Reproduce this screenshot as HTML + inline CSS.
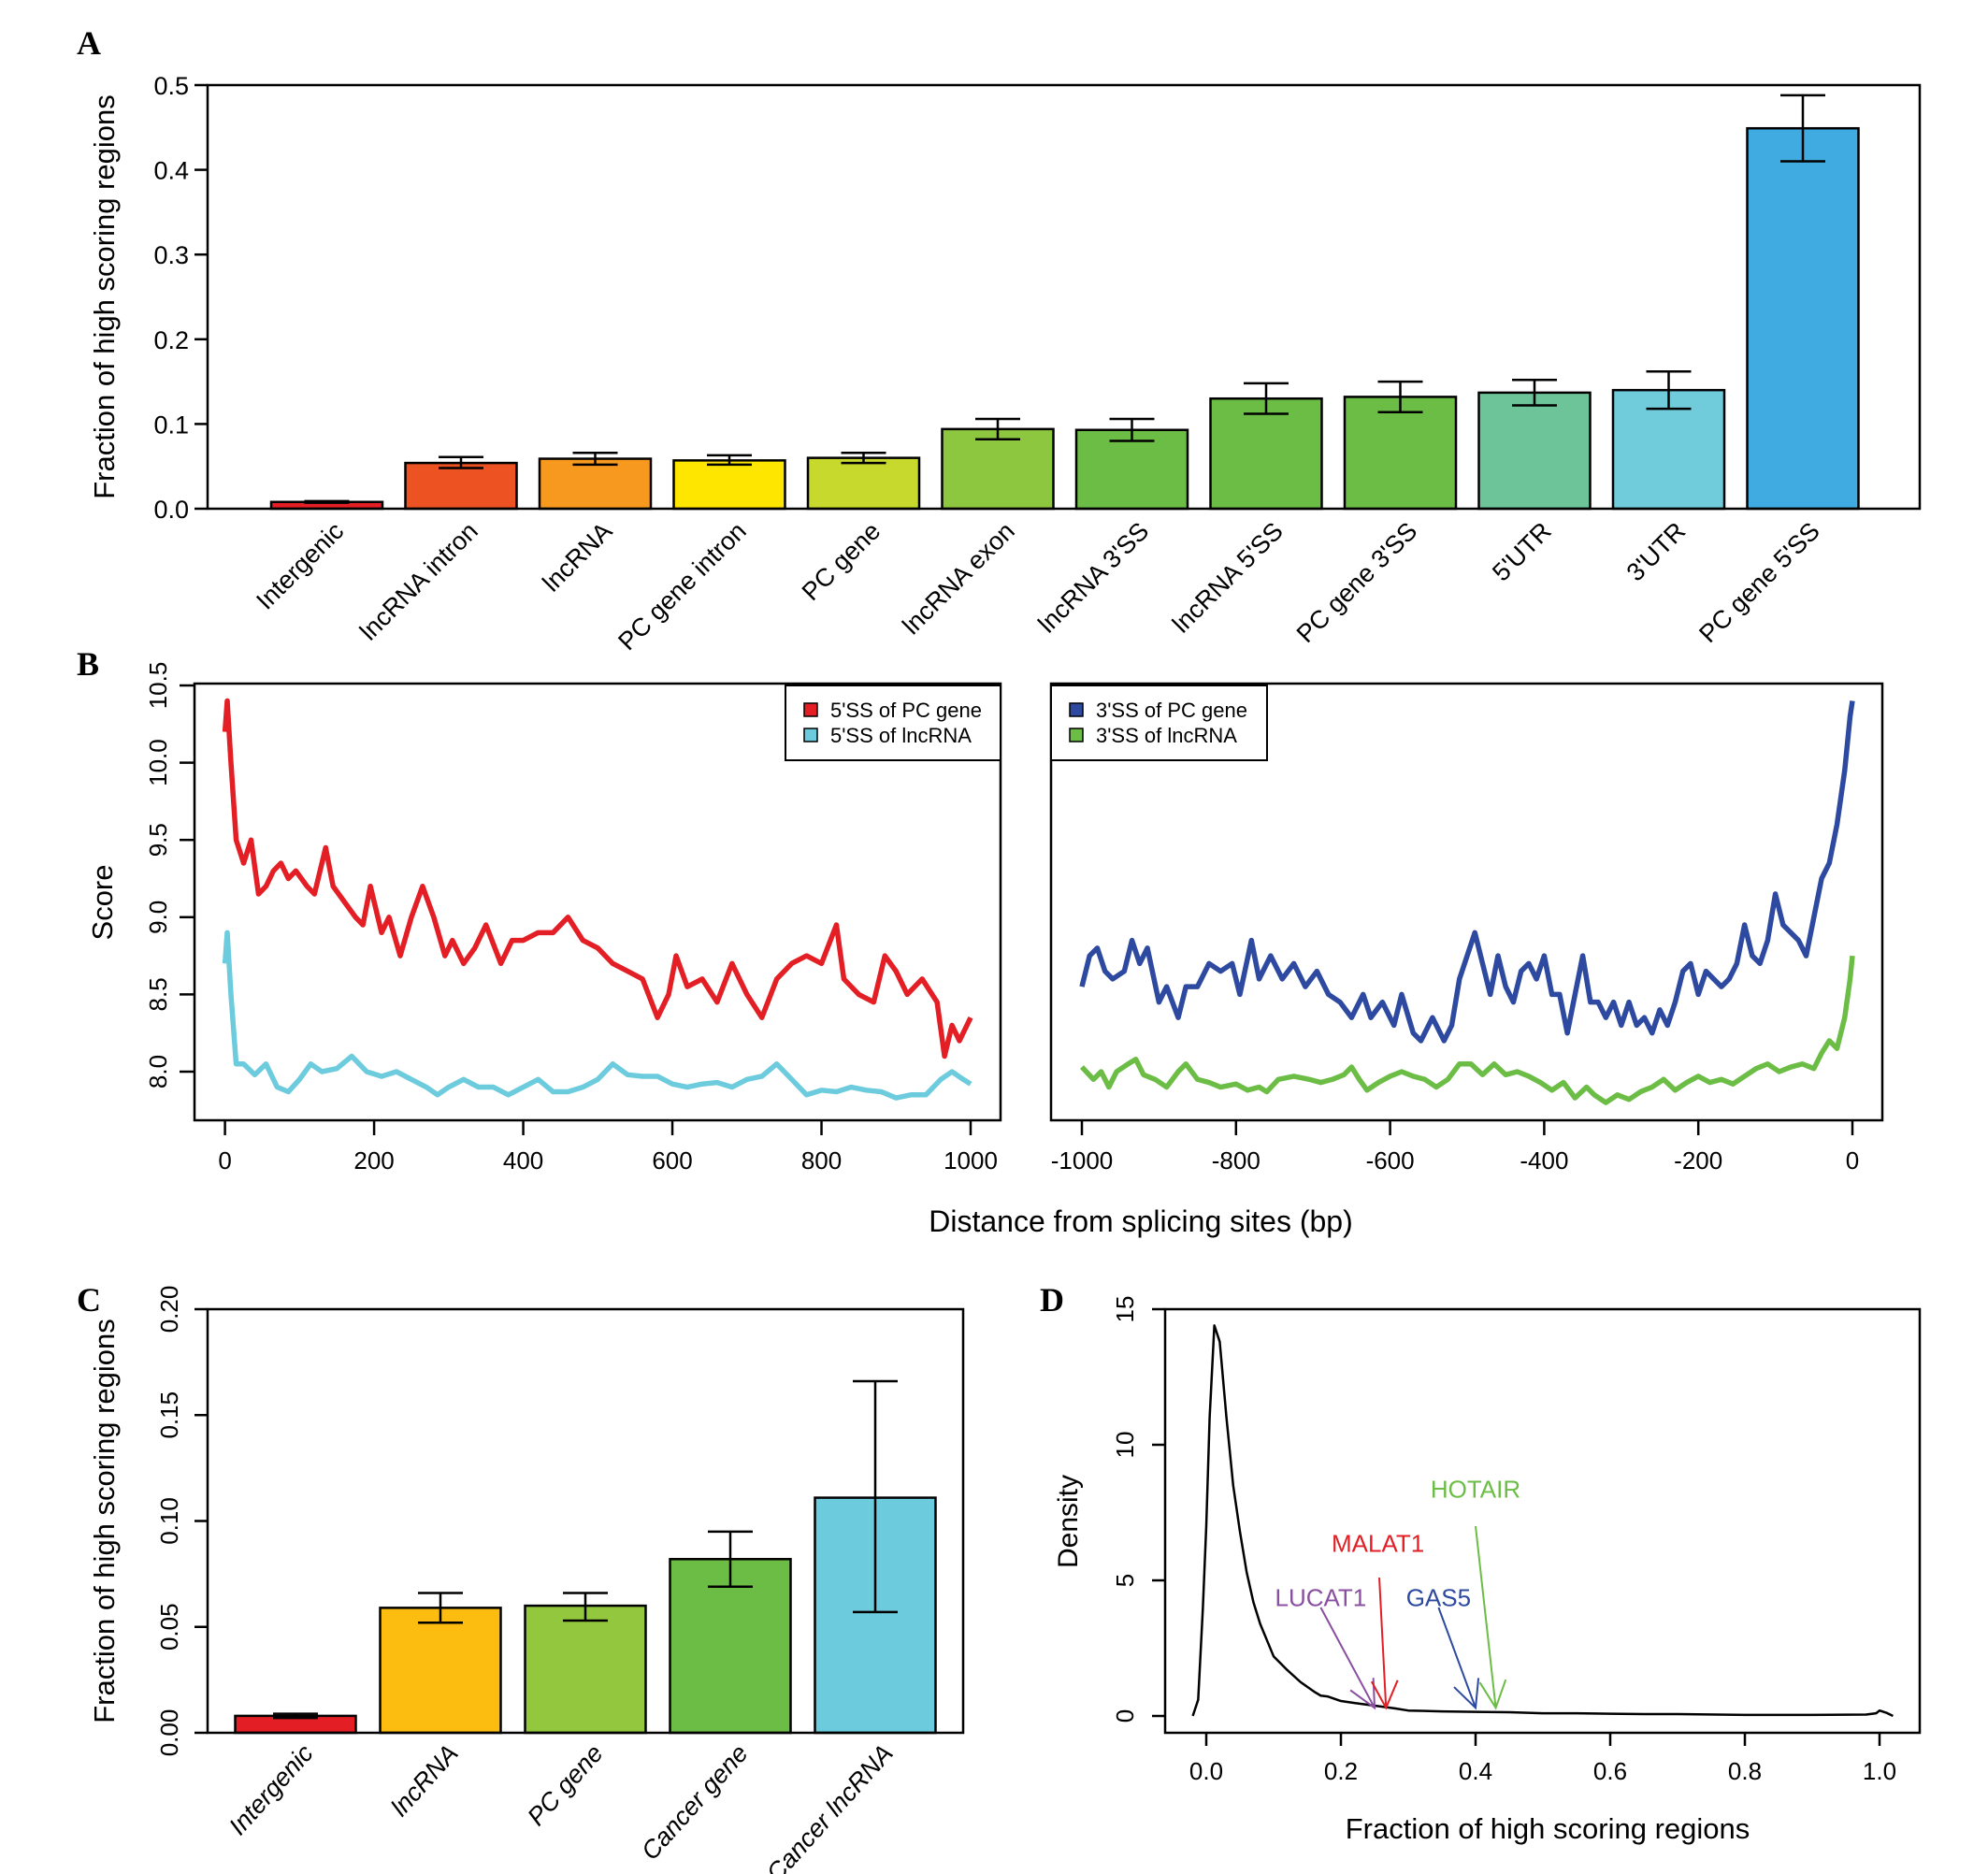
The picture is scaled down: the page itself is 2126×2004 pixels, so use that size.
<!DOCTYPE html>
<html><head><meta charset="utf-8">
<style>
html,body{margin:0;padding:0;background:#fff;}
svg{display:block;font-family:"Liberation Sans",sans-serif;}
.pl{font-family:"Liberation Serif",serif;font-weight:bold;font-size:36px;}
</style></head>
<body>
<svg id="fig" width="2126" height="2004" viewBox="0 0 2126 2004" xmlns="http://www.w3.org/2000/svg">
<text class="pl" x="82" y="58">A</text>
<text class="pl" x="82" y="722">B</text>
<text class="pl" x="82" y="1402">C</text>
<text class="pl" x="1112" y="1402">D</text>
</svg>
<script>
// ---- Panel A data
const catsA=["Intergenic","lncRNA intron","lncRNA","PC gene intron","PC gene","lncRNA exon","lncRNA 3'SS","lncRNA 5'SS","PC gene 3'SS","5'UTR","3'UTR","PC gene 5'SS"];
const valsA=[0.008,0.054,0.059,0.057,0.060,0.094,0.093,0.130,0.132,0.137,0.140,0.449];
const loA=[0.007,0.048,0.052,0.052,0.054,0.082,0.080,0.112,0.114,0.122,0.118,0.410];
const hiA=[0.009,0.061,0.066,0.063,0.066,0.106,0.106,0.148,0.150,0.152,0.162,0.488];
const colA=["#e31e24","#ed5222","#f7991f","#ffe600","#c8d92e","#8dc63f","#6cbd45","#6cbd45","#6cbd45","#6dc498","#70cbdb","#40abe1"];
const ticksA=["0.0","0.1","0.2","0.3","0.4","0.5"];
// ---- Panel B data
const x5pc=[0,3,8,15,25,35,45,55,65,75,85,95,110,120,135,145,160,175,185,195,210,220,235,250,265,280,295,305,320,335,350,370,385,400,420,440,460,480,500,520,540,560,580,595,605,620,640,660,680,700,720,740,760,780,800,820,830,850,870,885,900,915,935,955,965,975,985,1000];
const y5pc=[10.2,10.4,10.0,9.5,9.35,9.5,9.15,9.2,9.3,9.35,9.25,9.3,9.2,9.15,9.45,9.2,9.1,9.0,8.95,9.2,8.9,9.0,8.75,9.0,9.2,9.0,8.75,8.85,8.7,8.8,8.95,8.7,8.85,8.85,8.9,8.9,9.0,8.85,8.8,8.7,8.65,8.6,8.35,8.5,8.75,8.55,8.6,8.45,8.7,8.5,8.35,8.6,8.7,8.75,8.7,8.95,8.6,8.5,8.45,8.75,8.65,8.5,8.6,8.45,8.1,8.3,8.2,8.35];
const x5lnc=[0,3,8,15,25,40,55,70,85,100,115,130,150,170,190,210,230,250,270,285,300,320,340,360,380,400,420,440,460,480,500,520,540,560,580,600,620,640,660,680,700,720,740,760,780,800,820,840,860,880,900,920,940,960,975,990,1000];
const y5lnc=[8.7,8.9,8.5,8.05,8.05,7.98,8.05,7.9,7.87,7.95,8.05,8.0,8.02,8.1,8.0,7.97,8.0,7.95,7.9,7.85,7.9,7.95,7.9,7.9,7.85,7.9,7.95,7.87,7.87,7.9,7.95,8.05,7.98,7.97,7.97,7.92,7.9,7.92,7.93,7.9,7.95,7.97,8.05,7.95,7.85,7.88,7.87,7.9,7.88,7.87,7.83,7.85,7.85,7.95,8.0,7.95,7.92];
const x3pc=[-1000,-990,-980,-970,-960,-945,-935,-925,-915,-900,-890,-875,-865,-850,-835,-820,-805,-795,-780,-770,-755,-740,-725,-710,-695,-680,-665,-650,-635,-625,-610,-595,-585,-570,-560,-545,-530,-520,-510,-500,-490,-480,-470,-460,-450,-440,-430,-420,-410,-400,-390,-380,-370,-360,-350,-340,-330,-320,-310,-300,-290,-280,-270,-260,-250,-240,-230,-220,-210,-200,-190,-180,-170,-160,-150,-140,-130,-120,-110,-100,-90,-80,-70,-60,-50,-40,-30,-20,-10,-3,0];
const y3pc=[8.55,8.75,8.8,8.65,8.6,8.65,8.85,8.7,8.8,8.45,8.55,8.35,8.55,8.55,8.7,8.65,8.7,8.5,8.85,8.6,8.75,8.6,8.7,8.55,8.65,8.5,8.45,8.35,8.5,8.35,8.45,8.3,8.5,8.25,8.2,8.35,8.2,8.3,8.6,8.75,8.9,8.7,8.5,8.75,8.55,8.45,8.65,8.7,8.6,8.75,8.5,8.5,8.25,8.5,8.75,8.45,8.45,8.35,8.45,8.3,8.45,8.3,8.35,8.25,8.4,8.3,8.45,8.65,8.7,8.5,8.65,8.6,8.55,8.6,8.7,8.95,8.75,8.7,8.85,9.15,8.95,8.9,8.85,8.75,9.0,9.25,9.35,9.6,9.95,10.3,10.4];
const x3lnc=[-1000,-985,-975,-965,-955,-940,-930,-920,-905,-890,-875,-865,-850,-835,-820,-800,-785,-770,-760,-745,-725,-705,-690,-675,-660,-650,-640,-630,-615,-600,-585,-570,-555,-540,-525,-510,-495,-480,-465,-450,-435,-420,-405,-390,-375,-360,-345,-335,-320,-305,-290,-275,-260,-245,-230,-215,-200,-185,-170,-155,-140,-125,-110,-95,-80,-65,-50,-40,-30,-20,-10,-3,0];
const y3lnc=[8.03,7.95,8.0,7.9,8.0,8.05,8.08,7.98,7.95,7.9,8.0,8.05,7.95,7.93,7.9,7.92,7.88,7.9,7.87,7.95,7.97,7.95,7.93,7.95,7.98,8.03,7.95,7.88,7.93,7.97,8.0,7.97,7.95,7.9,7.95,8.05,8.05,7.98,8.05,7.98,8.0,7.97,7.93,7.88,7.93,7.83,7.9,7.85,7.8,7.85,7.82,7.87,7.9,7.95,7.88,7.93,7.97,7.93,7.95,7.92,7.97,8.02,8.05,8.0,8.03,8.05,8.02,8.12,8.2,8.15,8.35,8.6,8.75];
const ticksBy=["8.0","8.5","9.0","9.5","10.0","10.5"];
const ticksBxL=[0,200,400,600,800,1000];
const ticksBxR=[-1000,-800,-600,-400,-200,0];
// ---- Panel C data
const catsC=["Intergenic","lncRNA","PC gene","Cancer gene","Cancer lncRNA"];
const valsC=[0.008,0.059,0.060,0.082,0.111];
const loC=[0.007,0.052,0.053,0.069,0.057];
const hiC=[0.009,0.066,0.066,0.095,0.166];
const colC=["#e31e24","#fdbd10","#93c83e","#6cbd45","#6ccbdc"];
const ticksC=["0.00","0.05","0.10","0.15","0.20"];
// ---- Panel D data
const dX=[-0.02,-0.012,-0.005,0,0.005,0.012,0.02,0.03,0.04,0.05,0.06,0.07,0.08,0.09,0.1,0.12,0.14,0.16,0.17,0.18,0.2,0.22,0.25,0.28,0.3,0.35,0.4,0.45,0.5,0.55,0.6,0.65,0.7,0.8,0.9,0.98,0.995,1.0,1.01,1.02];
const dY=[0,0.6,4,7,11,14.4,13.8,11,8.5,6.8,5.3,4.2,3.4,2.8,2.2,1.7,1.25,0.9,0.75,0.72,0.55,0.48,0.38,0.28,0.2,0.17,0.15,0.14,0.1,0.1,0.08,0.07,0.07,0.04,0.04,0.05,0.1,0.2,0.12,0];
const annNames=["LUCAT1","MALAT1","GAS5","HOTAIR"];
const annTarget=[0.25,0.267,0.40,0.43];
const annLabelX=[0.17,0.255,0.345,0.40];
const annLabelY=[4.4,6.4,4.4,8.4];
const annStartX=[0.17,0.257,0.345,0.40];
const annStartY=[4.0,5.1,4.0,7.0];
const annCol=["#8a4fa0","#e31e24","#2e4aa0","#6cbd45"];
const ticksDx=["0.0","0.2","0.4","0.6","0.8","1.0"];
const ticksDy=[0,5,10,15];

const svg=document.getElementById('fig');
const NS="http://www.w3.org/2000/svg";
function mk(tag,attrs,parent){const e=document.createElementNS(NS,tag);for(const k in attrs)e.setAttribute(k,attrs[k]);(parent||svg).appendChild(e);return e;}
function txt(s,attrs,parent){const e=mk('text',attrs,parent);e.textContent=s;return e;}

// ===== Panel A
(function(){
 const L=222,R=2053,T=91,B=544;
 const y=v=>B-(v/0.5)*(B-T);
 const x0=290,step=143.5,w=119;
 const g=mk('g',{});  
 catsA.forEach((c,i)=>{
  const bx=x0+i*step;
  const r=mk('rect',{x:bx,y:y(valsA[i]),width:w,height:B-y(valsA[i]),fill:colA[i],stroke:'#000','stroke-width':2.5},g);
  
  
  const cx=bx+w/2;
  const eb=mk('path',{d:`M${cx},${y(loA[i])}V${y(hiA[i])}M${cx-24},${y(loA[i])}H${cx+24}M${cx-24},${y(hiA[i])}H${cx+24}`,stroke:'#000','stroke-width':2.5,fill:'none'},g);
  
  
  const t=txt(c,{x:cx+6,y:B+12,'text-anchor':'end','font-size':27,transform:`rotate(-45 ${cx+6} ${B+12})`,'dominant-baseline':'hanging'},g);
  
  
 });
 const fr=mk('rect',{x:L,y:T,width:R-L,height:B-T,fill:'none',stroke:'#000','stroke-width':2.5},g);
 
 
 ticksA.forEach((s,i)=>{const yy=y(+s);mk('line',{x1:L-14,x2:L,y1:yy,y2:yy,stroke:'#000','stroke-width':2.5},g);
  const t=txt(s,{x:L-20,y:yy+10,'text-anchor':'end','font-size':27},g);
  
  });
 const yt=txt('Fraction of high scoring regions',{x:0,y:0,'text-anchor':'middle','font-size':31,transform:`translate(122 ${(T+B)/2}) rotate(-90)`},g);
 
 
})();

// ===== Panel B
function linePanel(L,R,T,B,xmin,xmax,ticksX,series,legend,legX,showY,name){
 const g=mk('g',{});
 
 
 const ymin=8.0,ymax=10.5,y0=1146,y1=733;
 const y=v=>y0-(v-ymin)/(ymax-ymin)*(y0-y1);
 const x=v=>(ticksX.x0)+(v-xmin)/(xmax-xmin)*(ticksX.x1-ticksX.x0);
 series.forEach(s=>{
  const p=mk('polyline',{points:s.xs.map((v,i)=>x(v)+','+y(s.ys[i])).join(' '),fill:'none',stroke:s.col,'stroke-width':5.5,'stroke-linejoin':'round'},g);
  
  
 });
 const fr=mk('rect',{x:L,y:T,width:R-L,height:B-T,fill:'none',stroke:'#000','stroke-width':2.5},g);
 
 
 ticksX.vals.forEach(v=>{const xx=x(v);mk('line',{x1:xx,x2:xx,y1:B,y2:B+16,stroke:'#000','stroke-width':2.5},g);
  const t=txt(String(v),{x:xx,y:B+52,'text-anchor':'middle','font-size':26},g);
  
  });
 if(showY){
  ticksBy.forEach(s=>{const yy=y(+s);mk('line',{x1:L-16,x2:L,y1:yy,y2:yy,stroke:'#000','stroke-width':2.5},g);
   const t=txt(s,{x:0,y:0,'text-anchor':'middle','font-size':26,transform:`translate(178 ${yy}) rotate(-90)`},g);
   
   });
 }
 const lg=mk('g',{},g);
 
 
 mk('rect',{x:legX[0],y:733,width:legX[1]-legX[0],height:80,fill:'#fff',stroke:'#000','stroke-width':2},lg);
 legend.forEach((l,i)=>{
  mk('rect',{x:legX[0]+20,y:752+i*27,width:14,height:14,fill:l.col,stroke:'#000','stroke-width':1.5},lg);
  const t=txt(l.label,{x:legX[0]+48,y:767+i*27,'font-size':22},lg);
  
  
 });
}
linePanel(208,1070,731,1198,0,1000,{x0:240.6,x1:1038,vals:ticksBxL},
 [{xs:x5pc,ys:y5pc,col:'#e31e24',name:'line-5ss-pc-gene'},{xs:x5lnc,ys:y5lnc,col:'#6ccbdc',name:'line-5ss-lncrna'}],
 [{label:"5'SS of PC gene",col:'#e31e24'},{label:"5'SS of lncRNA",col:'#6ccbdc'}],[840,1070],true,'panel-b-left');
linePanel(1124,2013,731,1198,-1000,0,{x0:1157,x1:1981,vals:ticksBxR},
 [{xs:x3pc,ys:y3pc,col:'#2e4aa0',name:'line-3ss-pc-gene'},{xs:x3lnc,ys:y3lnc,col:'#6cbd45',name:'line-3ss-lncrna'}],
 [{label:"3'SS of PC gene",col:'#2e4aa0'},{label:"3'SS of lncRNA",col:'#6cbd45'}],[1124,1355],false,'panel-b-right');
(function(){
 const t=txt('Distance from splicing sites (bp)',{x:1220,y:1317,'text-anchor':'middle','font-size':32});
 
 
 const s=txt('Score',{x:0,y:0,'text-anchor':'middle','font-size':31,transform:'translate(120 965) rotate(-90)'});
 
 
})();

// ===== Panel C
(function(){
 const L=222,R=1030,T=1400,B=1853;
 const y=v=>B-(v/0.2)*(B-T);
 const x0=251.5,step=155,w=129;
 const g=mk('g',{});
 
 
 catsC.forEach((c,i)=>{
  const bx=x0+i*step;
  const r=mk('rect',{x:bx,y:y(valsC[i]),width:w,height:B-y(valsC[i]),fill:colC[i],stroke:'#000','stroke-width':2.5},g);
  
  
  const cx=bx+w/2;
  const eb=mk('path',{d:`M${cx},${y(loC[i])}V${y(hiC[i])}M${cx-24},${y(loC[i])}H${cx+24}M${cx-24},${y(hiC[i])}H${cx+24}`,stroke:'#000','stroke-width':2.5,fill:'none'},g);
  
  
  const t=txt(c,{x:cx+6,y:B+10,'text-anchor':'end','font-size':27,'font-style':'italic',transform:`rotate(-48 ${cx+6} ${B+10})`,'dominant-baseline':'hanging'},g);
  
  
 });
 const fr=mk('rect',{x:L,y:T,width:R-L,height:B-T,fill:'none',stroke:'#000','stroke-width':2.5},g);
 
 
 ticksC.forEach(s=>{const yy=y(+s);mk('line',{x1:L-14,x2:L,y1:yy,y2:yy,stroke:'#000','stroke-width':2.5},g);
  const t=txt(s,{x:0,y:0,'text-anchor':'middle','font-size':26,transform:`translate(190 ${yy}) rotate(-90)`},g);
  
  });
 const yt=txt('Fraction of high scoring regions',{x:0,y:0,'text-anchor':'middle','font-size':31,transform:`translate(122 ${(T+B)/2}) rotate(-90)`},g);
 
 
})();

// ===== Panel D
(function(){
 const L=1246,R=2053,T=1400,B=1853;
 const x=v=>1290+v*(2010-1290);
 const y=v=>1835-v*(1835-1400)/15;
 const g=mk('g',{});
 
 
 const p=mk('polyline',{points:dX.map((v,i)=>x(v)+','+y(dY[i])).join(' '),fill:'none',stroke:'#000','stroke-width':2.5,'stroke-linejoin':'round'},g);
 
 
 annNames.forEach((n,i)=>{
  const x1=x(annStartX[i]),y1=y(annStartY[i]),x2=x(annTarget[i]),y2=y(0.3);
  const ang=Math.atan2(y2-y1,x2-x1),h=32,a=0.45;
  const d=`M${x1},${y1}L${x2},${y2}M${x2-h*Math.cos(ang-a)},${y2-h*Math.sin(ang-a)}L${x2},${y2}L${x2-h*Math.cos(ang+a)},${y2-h*Math.sin(ang+a)}`;
  const ar=mk('path',{d:d,stroke:annCol[i],'stroke-width':2,fill:'none'},g);
  
  
  const t=txt(n,{x:x(annLabelX[i]),y:y(annLabelY[i])+10,'text-anchor':'middle','font-size':26,fill:annCol[i]},g);
  
  
 });
 const fr=mk('rect',{x:L,y:T,width:R-L,height:B-T,fill:'none',stroke:'#000','stroke-width':2.5},g);
 
 
 ticksDx.forEach(s=>{const xx=x(+s);mk('line',{x1:xx,x2:xx,y1:B,y2:B+14,stroke:'#000','stroke-width':2.5},g);
  const t=txt(s,{x:xx,y:B+50,'text-anchor':'middle','font-size':26},g);
  
  });
 ticksDy.forEach(v=>{const yy=y(v);mk('line',{x1:L-14,x2:L,y1:yy,y2:yy,stroke:'#000','stroke-width':2.5},g);
  const t=txt(String(v),{x:0,y:0,'text-anchor':'middle','font-size':26,transform:`translate(1212 ${yy}) rotate(-90)`},g);
  
  });
 const xt=txt('Fraction of high scoring regions',{x:1655,y:1966,'text-anchor':'middle','font-size':31},g);
 
 
 const yt=txt('Density',{x:0,y:0,'text-anchor':'middle','font-size':30,transform:'translate(1152 1627) rotate(-90)'},g);
 
 
})();
</script>
</body></html>
